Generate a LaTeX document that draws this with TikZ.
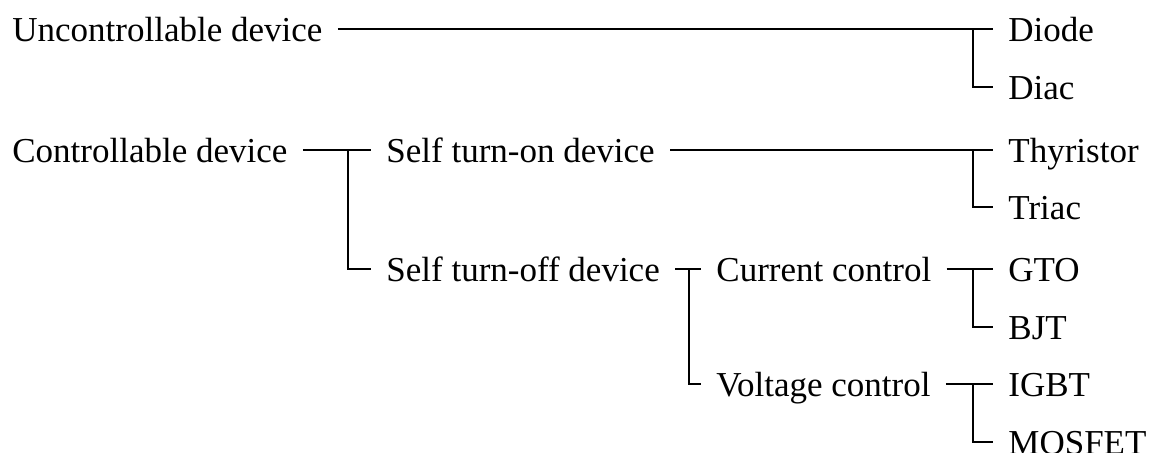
\documentclass[tikz,border=0pt]{standalone}
\usepackage{fontspec}
\setmainfont{Liberation Serif}
\begin{document}
\begin{tikzpicture}[x=0.5pt,y=-0.5pt,
  lbl/.style={anchor=west,inner xsep=7.5pt,inner ysep=0pt,text height=12.95pt,text depth=0pt,
    font=\fontsize{17.5}{20}\selectfont},
  conn/.style={line width=0.95pt,black}]
\useasboundingbox (0,0) rectangle (1150,452);
% nodes
\node[lbl] (unc)   at (-3,29)  {Uncontrollable device};
\node[lbl] (diode) at (993,29) {Diode};
\node[lbl] (diac)  at (993,87) {Diac};
\node[lbl] (ctrl)  at (-3,150) {Controllable device};
\node[lbl] (son)   at (371,150) {Self turn-on device};
\node[lbl] (thy)   at (993,150) {Thyristor};
\node[lbl] (tri)   at (993,207) {Triac};
\node[lbl] (soff)  at (371,269) {Self turn-off device};
\node[lbl] (cur)   at (701,269) {Current control};
\node[lbl] (vol)   at (701,384) {Voltage control};
\node[lbl] (gto)   at (993,269) {GTO};
\node[lbl] (bjt)   at (993,327) {BJT};
\node[lbl] (igbt)  at (993,384) {IGBT};
\node[lbl] (mos)   at (993,442) {MOSFET};
% connectors
\draw[conn] (unc.east) -- (diode.west);
\draw[conn] ([xshift=-10pt]diode.west) |- (diac.west);
\draw[conn] (ctrl.east) -- (son.west);
\draw[conn] ([xshift=-11.5pt]son.west) |- (soff.west);
\draw[conn] (son.east) -- (thy.west);
\draw[conn] ([xshift=-10pt]thy.west) |- (tri.west);
\draw[conn] (soff.east) -- (cur.west);
\draw[conn] ([xshift=-6pt]cur.west) |- (vol.west);
\draw[conn] (cur.east) -- (gto.west);
\draw[conn] ([xshift=-10pt]gto.west) |- (bjt.west);
\draw[conn] (vol.east) -- (igbt.west);
\draw[conn] ([xshift=-10pt]igbt.west) |- (mos.west);
\end{tikzpicture}
\end{document}
